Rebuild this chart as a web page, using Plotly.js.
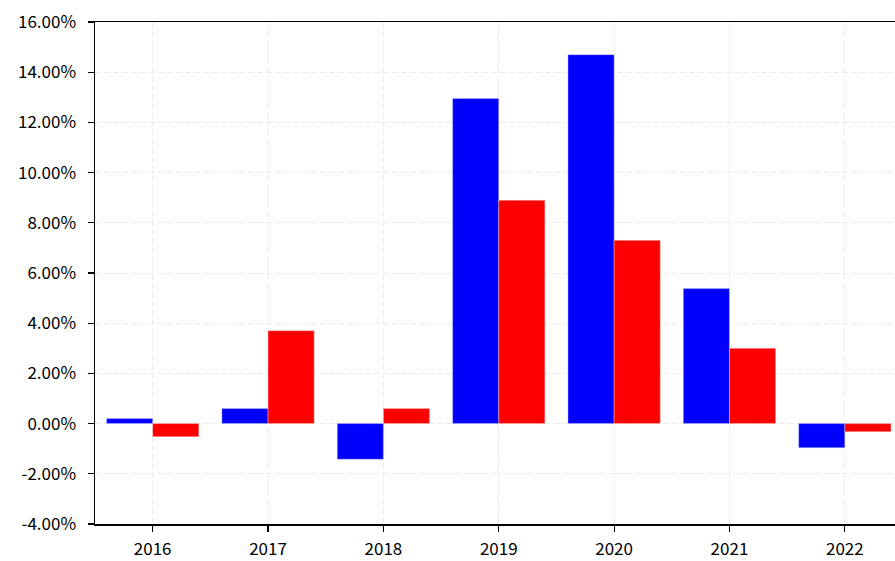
<!DOCTYPE html>
<html>
<head>
<meta charset="utf-8">
<script src="https://cdn.plot.ly/plotly-3.0.1.min.js"></script>
<style>html,body{margin:0;padding:0;background:#fff;overflow:hidden;}</style>
</head>
<body>
<div id="chart" style="width:895px;height:561px;"></div>
<script>
const years = ["2016", "2017", "2018", "2019", "2020", "2021", "2022"];
const blueValues = [0.20, 0.60, -1.42, 12.95, 14.70, 5.38, -0.96];
const redValues = [-0.52, 3.70, 0.60, 8.90, 7.30, 3.00, -0.32];
const yTickVals = [-4, -2, 0, 2, 4, 6, 8, 10, 12, 14, 16];
const yTickText = yTickVals.map(v => v.toFixed(2) + "%");

const font = "'Noto Sans CJK SC', 'DejaVu Sans', sans-serif";

const traces = [
  {type: "bar", x: years, y: blueValues, name: "A",
   marker: {color: "#0000ff", line: {color: "rgba(210,210,255,0.7)", width: 0.6}}},
  {type: "bar", x: years, y: redValues, name: "B",
   marker: {color: "#ff0000", line: {color: "rgba(255,210,210,0.7)", width: 0.6}}}
];

const layout = {
  width: 895, height: 561,
  margin: {l: 95, r: 0, t: 22, b: 37},
  paper_bgcolor: "#fff", plot_bgcolor: "#fff",
  showlegend: false,
  barmode: "group", bargap: 0.2, bargroupgap: 0,
  font: {family: font, size: 17, color: "#000"},
  xaxis: {
    type: "category", range: [-0.5, 6.435],
    showline: true, linecolor: "#000", linewidth: 1.5, mirror: true,
    ticks: "outside", ticklen: 6, tickwidth: 1.2, tickcolor: "#000",
    ticklabelstandoff: 3,
    showgrid: true, gridcolor: "#ebebeb", gridwidth: 1, griddash: "6px,3px",
    tickfont: {family: font, size: 17, color: "#000"}, zeroline: false
  },
  yaxis: {
    range: [-4, 16], tickvals: yTickVals, ticktext: yTickText,
    showline: true, linecolor: "#000", linewidth: 1.5, mirror: false,
    ticks: "outside", ticklen: 6, tickwidth: 1.2, tickcolor: "#000",
    ticklabelstandoff: 8,
    showgrid: true, gridcolor: "#ebebeb", gridwidth: 1, griddash: "6px,3px",
    tickfont: {family: font, size: 17, color: "#000"}, zeroline: false
  }
};

Plotly.newPlot("chart", traces, layout, {displayModeBar: false, staticPlot: true});
</script>
</body>
</html>
